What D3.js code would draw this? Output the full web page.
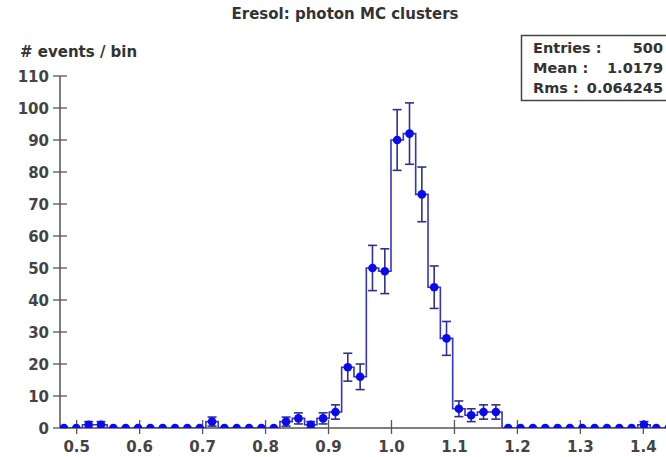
<!DOCTYPE html>
<html>
<head>
<meta charset="utf-8">
<script src="https://cdn.jsdelivr.net/npm/d3@7"></script>
<style>
  html, body { margin: 0; padding: 0; background: #fff; }
  svg { display: block; }
  text { font-family: "DejaVu Sans", sans-serif; font-weight: bold; }
</style>
</head>
<body>
<svg id="chart" width="666" height="457"></svg>
<script>
// ---- data ----
const titleText = "Eresol: photon MC clusters";
const yLabelText = "# events / bin";
const histLow = 0.47;
const histHigh = 1.45;
const nBins = 50;
const counts = [0, 0, 1, 1, 0, 0, 0, 0, 0, 0,
                0, 0, 2, 0, 0, 0, 0, 0, 2, 3,
                1, 3, 5, 19, 16, 50, 49, 90, 92, 73,
                44, 28, 6, 4, 5, 5, 0, 0, 0, 0,
                0, 0, 0, 0, 0, 0, 0, 1, 0, 0];
const xTicks = [0.5, 0.6, 0.7, 0.8, 0.9, 1.0, 1.1, 1.2, 1.3, 1.4];
const yTicks = [0, 10, 20, 30, 40, 50, 60, 70, 80, 90, 100, 110];
const statLabels = ["Entries :", "Mean :", "Rms :"];
const statValues = ["500", "1.0179", "0.064245"];

// ---- layout ----
const svg = d3.select("#chart");
const W = 666, H = 457;
const x = d3.scaleLinear().domain([0.4735, 1.4525]).range([60, 676.4]);
const y = d3.scaleLinear().domain([0, 110]).range([428, 76]);
const binW = (histHigh - histLow) / nBins;
const bins = counts.map((c, i) => ({
  lo: histLow + i * binW,
  hi: histLow + (i + 1) * binW,
  c: histLow + (i + 0.5) * binW,
  n: c
}));

svg.append("rect").attr("width", W).attr("height", H).attr("fill", "#fff");

// title
svg.append("text").attr("x", 345).attr("y", 19).attr("text-anchor", "middle")
  .attr("font-size", 15).attr("fill", "#333").text(titleText);

// y label
svg.append("text").attr("x", 20).attr("y", 57).attr("font-size", 15)
  .attr("fill", "#333").text(yLabelText);

const axisColor = "#555";
const tickColor = "#444";

// y axis
const gy = svg.append("g");
gy.append("line").attr("x1", 60).attr("x2", 60).attr("y1", y(110)).attr("y2", y(0))
  .attr("stroke", axisColor).attr("stroke-width", 1.5);
gy.selectAll("line.t").data(yTicks).join("line").attr("class", "t")
  .attr("x1", 53).attr("x2", 67).attr("y1", d => y(d)).attr("y2", d => y(d))
  .attr("stroke", axisColor).attr("stroke-width", 1.3);
gy.selectAll("text").data(yTicks).join("text")
  .attr("x", 49).attr("y", d => y(d) + 5.5).attr("text-anchor", "end")
  .attr("font-size", 15).attr("fill", tickColor).text(d => d);

// x axis
const gx = svg.append("g");
gx.append("line").attr("x1", 60).attr("x2", W).attr("y1", 428).attr("y2", 428)
  .attr("stroke", axisColor).attr("stroke-width", 1.5);
gx.selectAll("line.t").data(xTicks).join("line").attr("class", "t")
  .attr("x1", d => x(d)).attr("x2", d => x(d)).attr("y1", 420).attr("y2", 434)
  .attr("stroke", axisColor).attr("stroke-width", 1.3);
gx.selectAll("text").data(xTicks).join("text")
  .attr("x", d => x(d)).attr("y", 452).attr("text-anchor", "middle")
  .attr("font-size", 15).attr("fill", tickColor).text(d => d.toFixed(1));

// clip
svg.append("clipPath").attr("id", "plotclip").append("rect")
  .attr("x", 60).attr("y", 0).attr("width", W - 60).attr("height", 428);
const plot = svg.append("g").attr("clip-path", "url(#plotclip)");

// step histogram
const pts = [];
bins.forEach((b, i) => {
  pts.push([x(b.lo), y(b.n)]);
  pts.push([x(b.hi), y(b.n)]);
});
plot.append("path")
  .attr("d", d3.line()([[x(bins[0].lo), y(0)], ...pts, [x(bins[nBins - 1].hi), y(0)]]))
  .attr("fill", "none").attr("stroke", "#3434c8").attr("stroke-width", 1.6);

// error bars
const eb = bins.filter(b => b.n > 0);
const ebColor = "#303090";
plot.selectAll("line.eb").data(eb).join("line").attr("class", "eb")
  .attr("x1", d => x(d.c)).attr("x2", d => x(d.c))
  .attr("y1", d => y(d.n + Math.sqrt(d.n))).attr("y2", d => y(d.n - Math.sqrt(d.n)))
  .attr("stroke", ebColor).attr("stroke-width", 1.6);
["top", "bot"].forEach(k => {
  plot.selectAll("line.cap" + k).data(eb).join("line").attr("class", "cap" + k)
    .attr("x1", d => x(d.c) - 4.5).attr("x2", d => x(d.c) + 4.5)
    .attr("y1", d => y(k === "top" ? d.n + Math.sqrt(d.n) : d.n - Math.sqrt(d.n)))
    .attr("y2", d => y(k === "top" ? d.n + Math.sqrt(d.n) : d.n - Math.sqrt(d.n)))
    .attr("stroke", ebColor).attr("stroke-width", 1.6);
});

// markers
plot.selectAll("circle").data(bins).join("circle")
  .attr("cx", d => x(d.c)).attr("cy", d => y(d.n)).attr("r", 4.3)
  .attr("fill", "#0a0aee");

// stats box
svg.append("rect").attr("x", 521.5).attr("y", 35.5).attr("width", 150).attr("height", 65)
  .attr("fill", "#fff").attr("stroke", "#444").attr("stroke-width", 1.5);
const rowY = [53, 73, 93];
svg.selectAll("text.sl").data(statLabels).join("text").attr("class", "sl")
  .attr("x", 533).attr("y", (d, i) => rowY[i]).attr("font-size", 14.5)
  .attr("fill", "#333").text(d => d);
svg.selectAll("text.sv").data(statValues).join("text").attr("class", "sv")
  .attr("x", 663).attr("y", (d, i) => rowY[i]).attr("text-anchor", "end")
  .attr("font-size", 14.5).attr("fill", "#333").text(d => d);
</script>
</body>
</html>
